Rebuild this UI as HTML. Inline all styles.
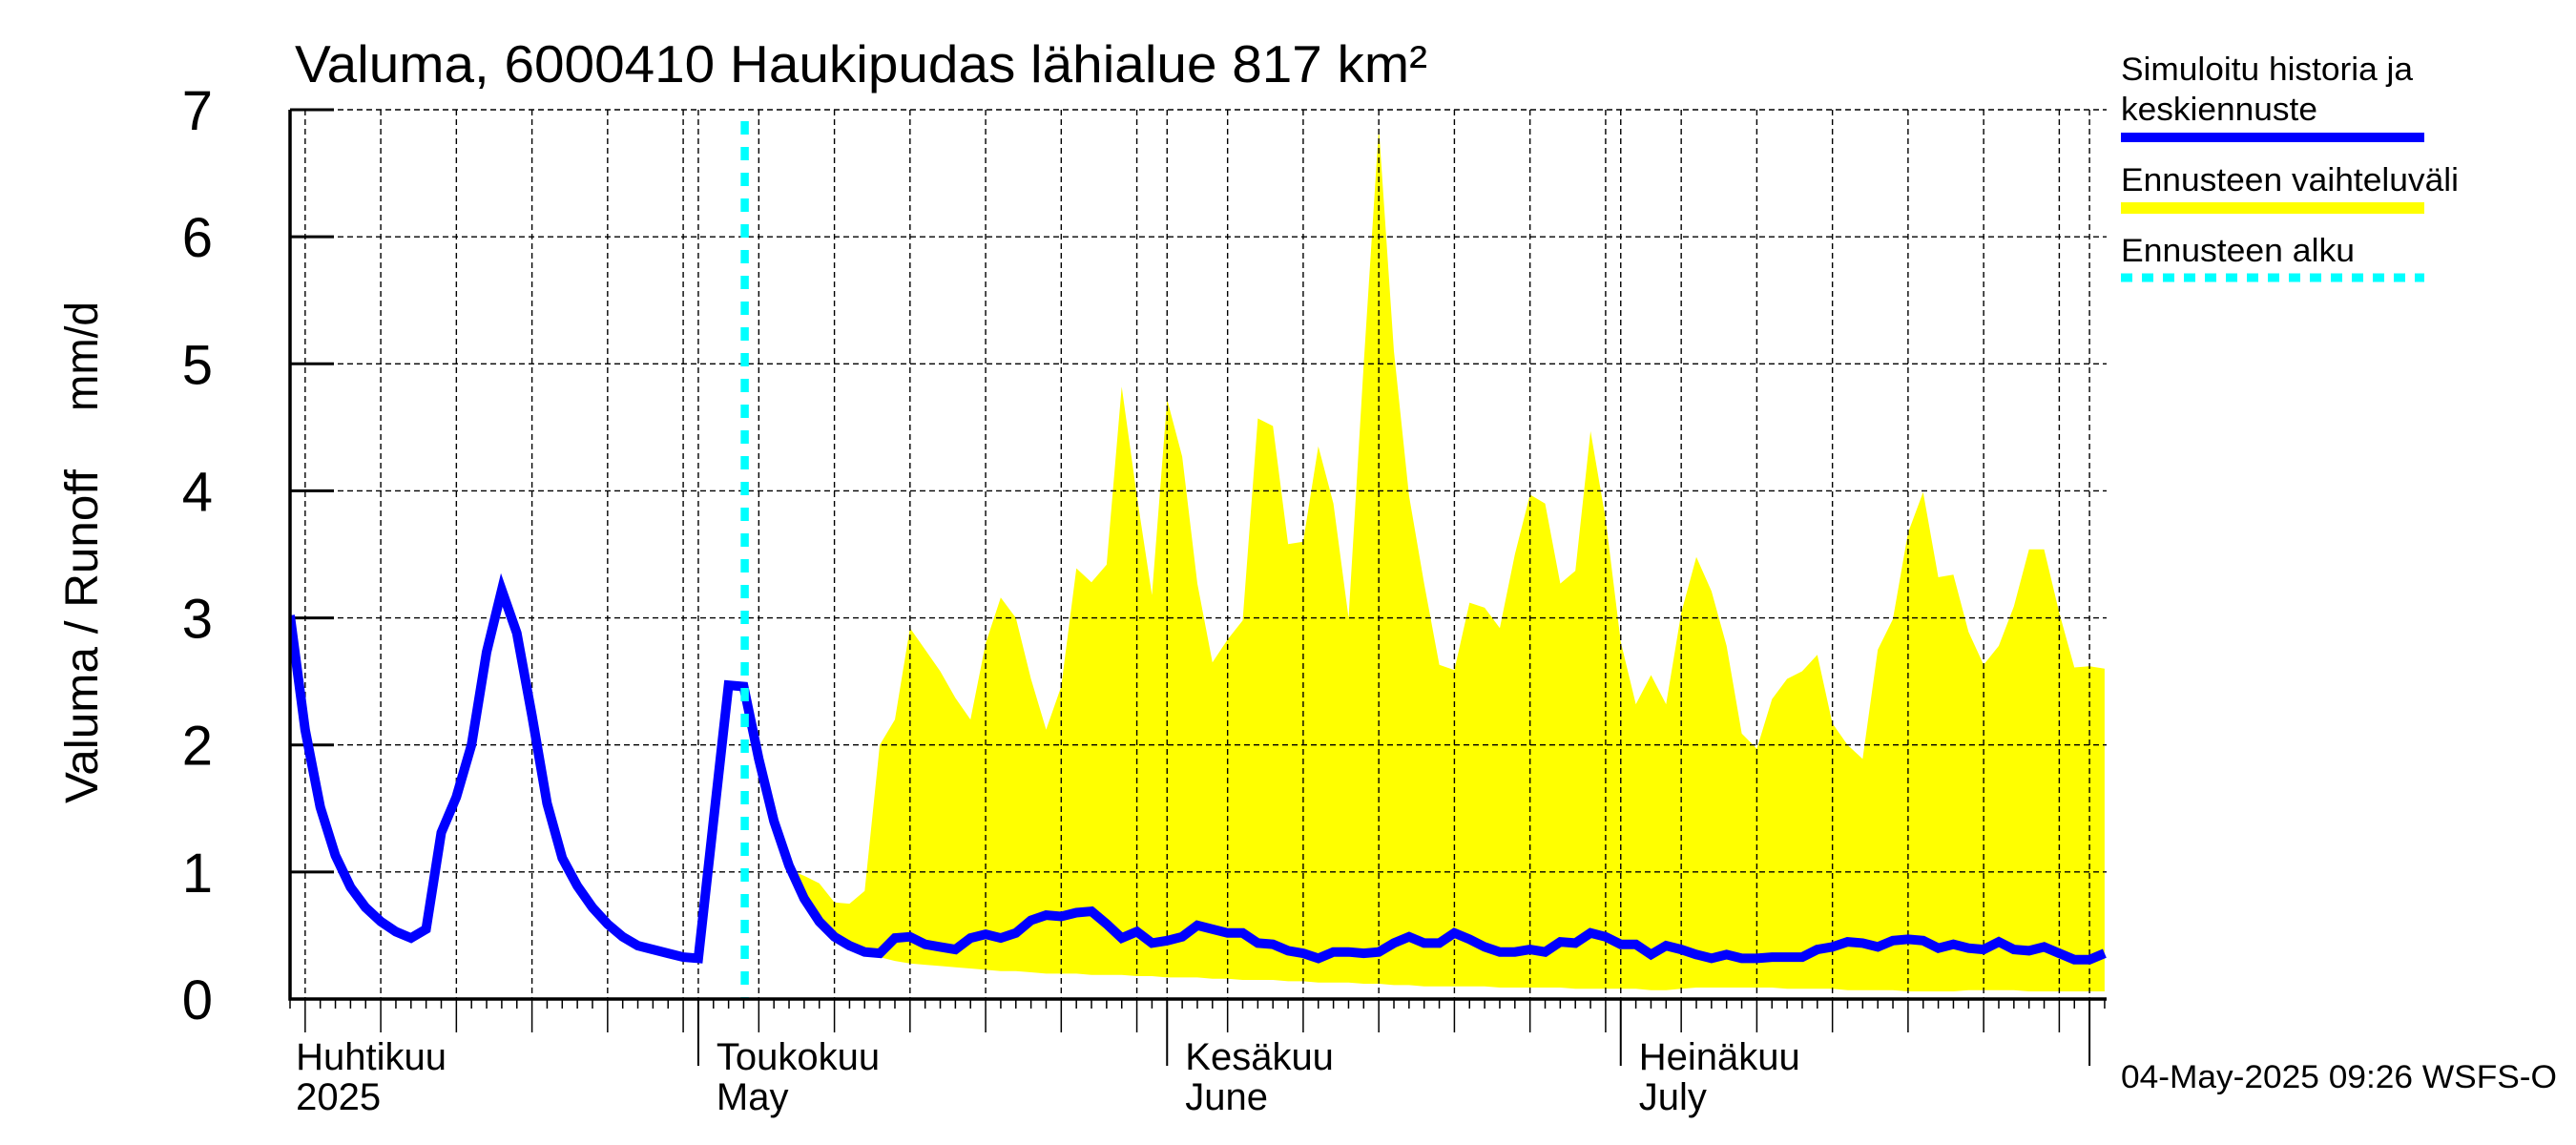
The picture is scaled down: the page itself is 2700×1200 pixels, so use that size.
<!DOCTYPE html>
<html><head><meta charset="utf-8"><style>
html,body{margin:0;padding:0;background:#fff;}
svg{display:block;font-family:"Liberation Sans",sans-serif;}
</style></head><body>
<svg id="chart" width="2700" height="1200" viewBox="0 0 2700 1200" xmlns="http://www.w3.org/2000/svg">
<rect width="2700" height="1200" fill="#fff"/>
<text x="309" y="86" font-size="55" textLength="1187" lengthAdjust="spacingAndGlyphs">Valuma, 6000410 Haukipudas lähialue 817 km²</text>
<g id="plot"></g>
<text transform="translate(102,842) rotate(-90)" font-size="48" textLength="350" lengthAdjust="spacingAndGlyphs">Valuma / Runoff</text>
<text transform="translate(102,431) rotate(-90)" font-size="48" textLength="115" lengthAdjust="spacingAndGlyphs">mm/d</text>
<g>
<text x="2223" y="84" font-size="34" textLength="306" lengthAdjust="spacingAndGlyphs">Simuloitu historia ja</text>
<text x="2223" y="126" font-size="34" textLength="206" lengthAdjust="spacingAndGlyphs">keskiennuste</text>
<rect x="2223" y="139" width="318" height="10" fill="#0000ff"/>
<text x="2223" y="200" font-size="34" textLength="354" lengthAdjust="spacingAndGlyphs">Ennusteen vaihteluväli</text>
<rect x="2223" y="212" width="318" height="12" fill="#ffff00"/>
<text x="2223" y="274" font-size="34" textLength="245" lengthAdjust="spacingAndGlyphs">Ennusteen alku</text>
<line x1="2223" y1="291" x2="2541" y2="291" stroke="#00ffff" stroke-width="9" stroke-dasharray="12,10"/>
</g>
<text x="2223" y="1140" font-size="34" textLength="457" lengthAdjust="spacingAndGlyphs">04-May-2025 09:26 WSFS-O</text>
</svg>
<script>
const simulated = [3.02,2.12,1.51,1.13,0.88,0.72,0.61,0.53,0.48,0.55,
1.31,1.59,2.0,2.73,3.22,2.88,2.23,1.54,1.11,0.89,
0.72,0.59,0.49,0.42,0.39,0.36,0.33,0.32,1.4,2.47,
2.46,1.89,1.4,1.05,0.79,0.61,0.49,0.42,0.37,0.36,
0.48,0.49,0.43,0.41,0.39,0.48,0.51,0.48,0.52,0.62,
0.66,0.65,0.68,0.69,0.59,0.48,0.53,0.44,0.46,0.49,
0.58,0.55,0.52,0.52,0.44,0.43,0.38,0.36,0.32,0.37,
0.37,0.36,0.37,0.44,0.49,0.44,0.44,0.52,0.47,0.41,
0.37,0.37,0.39,0.37,0.45,0.44,0.52,0.49,0.43,0.43,
0.35,0.42,0.39,0.35,0.32,0.35,0.32,0.32,0.33,0.33,
0.33,0.39,0.41,0.45,0.44,0.41,0.46,0.47,0.46,0.40,
0.43,0.40,0.39,0.45,0.39,0.38,0.41,0.36,0.31,0.31,0.36];
const bandStartDay = 33;
const bandUpper = [1.02,0.97,0.91,0.76,0.75,0.85,2.0,
2.2,2.92,2.75,2.58,2.37,2.2,2.8,3.16,3.0,2.52,
2.12,2.46,3.39,3.28,3.42,4.82,3.96,3.18,4.72,4.27,
3.27,2.65,2.83,2.98,4.57,4.51,3.58,3.6,4.35,3.9,
3.0,4.99,6.86,5.1,3.96,3.27,2.63,2.59,3.12,3.08,
2.92,3.5,3.97,3.9,3.27,3.37,4.47,3.78,2.81,2.32,
2.55,2.32,3.04,3.48,3.21,2.78,2.09,1.97,2.36,2.52,
2.58,2.71,2.17,2.0,1.89,2.75,2.99,3.67,3.99,3.32,
3.34,2.89,2.63,2.78,3.09,3.54,3.54,3.04,2.61,2.62,2.6];
const bandLower = [1.02,0.79,0.6,0.48,0.4,0.35,0.33,
0.3,0.28,0.27,0.26,0.25,0.24,0.23,0.22,0.22,0.21,
0.2,0.2,0.2,0.19,0.19,0.19,0.18,0.18,0.17,0.17,
0.17,0.16,0.16,0.15,0.15,0.15,0.14,0.14,0.13,0.13,
0.13,0.12,0.12,0.11,0.11,0.1,0.1,0.1,0.1,0.1,
0.09,0.09,0.09,0.09,0.09,0.08,0.08,0.08,0.08,0.08,
0.07,0.07,0.08,0.09,0.09,0.09,0.09,0.09,0.09,0.08,
0.08,0.08,0.08,0.07,0.07,0.07,0.07,0.06,0.06,0.06,
0.06,0.07,0.07,0.07,0.07,0.06,0.06,0.06,0.06,0.06,0.06];
const forecastStartDay = 30.07;
const yTicks = [0,1,2,3,4,5,6,7];
const monthLabels = [["Huhtikuu","2025"],["Toukokuu","May"],["Kesäkuu","June"],["Heinäkuu","July"]];
const monthLabelDays = [0.2,27,58,88];

const X0=304, X1=2208, Y0=1047, Y1=115, DMAX=120.13, VMAX=7;
const xs = d => X0 + d*(X1-X0)/DMAX;
const ys = v => Y0 - v*(Y0-Y1)/VMAX;
const NS="http://www.w3.org/2000/svg";
const plot=document.getElementById('plot');
function mk(tag,attrs,parent){const e=document.createElementNS(NS,tag);for(const k in attrs)e.setAttribute(k,attrs[k]);(parent||plot).appendChild(e);return e;}

const defs=mk('defs',{});
const cp=mk('clipPath',{id:'clip'},defs);
mk('rect',{x:X0,y:Y1,width:X1-X0,height:Y0-Y1},cp);

let pts=[];
for(let i=0;i<bandUpper.length;i++)pts.push(xs(bandStartDay+i).toFixed(1)+','+ys(bandUpper[i]).toFixed(1));
for(let i=bandLower.length-1;i>=0;i--)pts.push(xs(bandStartDay+i).toFixed(1)+','+ys(bandLower[i]).toFixed(1));
const band=mk('polygon',{points:pts.join(' '),fill:'#ffff00','clip-path':'url(#clip)'});



const gridG=mk('g',{});


for(let d=0;d<=120;d++){
  const dt=new Date(2025,3,4+d);const dd=dt.getDate();
  const x=xs(d);
  const isMonth=dd===1, isGrid=[5,10,15,20,25,30].includes(dd)||isMonth;
  if(isGrid){
    const gl=mk('line',{x1:x,y1:Y1,x2:x,y2:Y0,stroke:'#000','stroke-width':1.4,'stroke-dasharray':'6,4'},gridG);
    
    
  }
  const len=isMonth?70:(isGrid?35:10);
  const t=mk('line',{x1:x,y1:Y0,x2:x,y2:Y0+len,stroke:'#000','stroke-width':isMonth?2:1.5});
  
  
}
yTicks.forEach(v=>{
  if(v>0){
    const gl=mk('line',{x1:X0,y1:ys(v),x2:X1,y2:ys(v),stroke:'#000','stroke-width':1.4,'stroke-dasharray':'6,4'},gridG);
    
    
  }
  const tk=mk('line',{x1:X0,y1:ys(v),x2:X0+46,y2:ys(v),stroke:'#000','stroke-width':3});
  
  
  const lb=mk('text',{x:223,y:ys(v)+21,'font-size':58,'text-anchor':'end'});
  lb.textContent=String(v);
  
  
});

const lp=simulated.map((v,i)=>xs(i).toFixed(1)+','+ys(v).toFixed(1)).join(' ');
const line=mk('polyline',{points:lp,fill:'none',stroke:'#0000ff','stroke-width':10,'stroke-linejoin':'miter','clip-path':'url(#clip)'});



const fs=mk('line',{x1:xs(forecastStartDay),y1:Y1+12,x2:xs(forecastStartDay),y2:Y0,stroke:'#00ffff','stroke-width':8.5,'stroke-dasharray':'14,13'});



const ax=mk('path',{d:`M${X0},${Y1} V${Y0} H${X1}`,fill:'none',stroke:'#000','stroke-width':3.5});



monthLabels.forEach((m,i)=>{
  const x=xs(monthLabelDays[i])+(i===0?3:19);
  const t1=mk('text',{x:x,y:1121,'font-size':40});
  t1.textContent=m[0];
  
  
  const t2=mk('text',{x:x,y:1163,'font-size':40});
  t2.textContent=m[1];
  
  
});
</script>
</body></html>
